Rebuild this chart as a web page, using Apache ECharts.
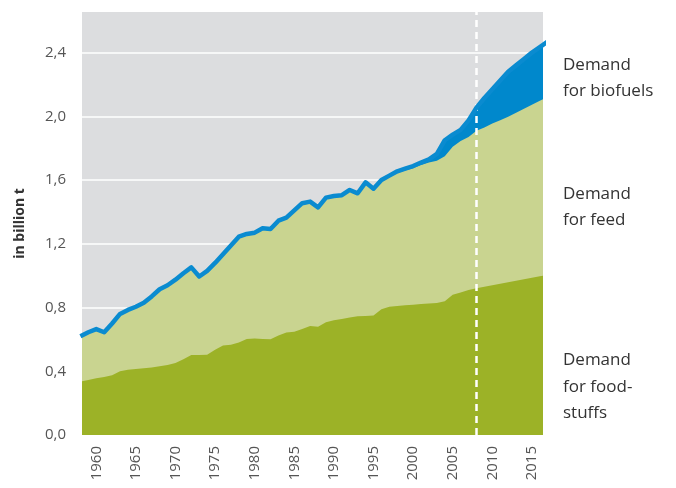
<!DOCTYPE html>
<html>
<head>
<meta charset="utf-8">
<script src="https://cdn.jsdelivr.net/npm/echarts@6.0.0/dist/echarts.min.js"></script>
<style>
html,body{margin:0;padding:0;background:#fff;}
#chart{width:676px;height:488px;}
</style>
</head>
<body>
<div id="chart"></div>
<script>
// Years (data are clipped to the visible range of the axis)
const years = [1958,1959,1960,1961,1962,1963,1964,1965,1966,1967,1968,1969,1970,1971,1972,1973,1974,1975,1976,1977,1978,1979,
  1980,1981,1982,1983,1984,1985,1986,1987,1988,1989,1990,1991,1992,1993,1994,1995,1996,1997,1998,1999,
  2000,2001,2002,2003,2004,2005,2006,2007,2008,2009,2010,2011,2012,2013,2014,2015,2016,2017];

// Cumulative levels, billion t
const foodLevel = [0.335,0.345,0.356,0.364,0.375,0.40,0.41,0.415,0.419,0.424,0.432,0.44,0.452,0.475,0.502,0.502,0.503,0.535,0.561,0.566,0.58,0.603,
  0.605,0.603,0.601,0.625,0.643,0.648,0.665,0.684,0.68,0.708,0.72,0.728,0.738,0.745,0.747,0.75,0.79,0.805,0.81,0.814,
  0.818,0.822,0.826,0.829,0.84,0.88,0.895,0.91,0.921,0.93,0.94,0.95,0.959,0.968,0.978,0.987,0.996,1.005];

const foodFeedLevel = [0.61,0.635,0.655,0.635,0.69,0.75,0.775,0.795,0.82,0.86,0.905,0.93,0.965,1.005,1.042,0.985,1.02,1.07,1.125,1.18,1.235,1.252,
  1.26,1.288,1.283,1.335,1.354,1.40,1.445,1.455,1.419,1.48,1.49,1.495,1.528,1.507,1.576,1.536,1.59,1.618,1.645,1.66,
  1.675,1.695,1.71,1.722,1.75,1.81,1.845,1.87,1.91,1.93,1.955,1.975,1.998,2.023,2.048,2.073,2.098,2.123];

const totalLevel = [0.62,0.645,0.665,0.645,0.70,0.76,0.785,0.805,0.83,0.87,0.915,0.94,0.975,1.015,1.052,0.995,1.03,1.08,1.135,1.19,1.245,1.262,
  1.27,1.298,1.293,1.345,1.364,1.41,1.455,1.465,1.429,1.49,1.50,1.505,1.538,1.517,1.586,1.546,1.60,1.628,1.655,1.672,
  1.688,1.71,1.73,1.765,1.85,1.885,1.915,1.975,2.055,2.115,2.17,2.225,2.28,2.32,2.36,2.40,2.435,2.47];

const xTickLabels = [1960,1965,1970,1975,1980,1985,1990,1995,2000,2005,2010,2015];
const projectionYear = 2008;
const seriesNames = ['Demand\nfor biofuels','Demand\nfor feed','Demand\nfor food-\nstuffs'];
const yAxisName = 'in billion t';

const pairs = arr => years.map((y, i) => [y, arr[i]]);

const FONT = '"Open Sans", "Noto Sans", sans-serif';
const chart = echarts.init(document.getElementById('chart'), null, {renderer: 'canvas'});

const option = {
  animation: false,
  grid: {
    left: 82, top: 12, right: 133, bottom: 53,
    show: true, backgroundColor: '#dcdddf', borderWidth: 0
  },
  xAxis: {
    type: 'value',
    min: 1958.2, max: 2016.4,
    axisLine: {show: false},
    axisTick: {show: false},
    splitLine: {show: false},
    axisLabel: {
      customValues: xTickLabels,
      rotate: 90, margin: 11,
      color: '#555', fontSize: 15, fontFamily: FONT,
      formatter: v => String(v)
    }
  },
  yAxis: {
    type: 'value',
    min: 0, max: 2.655, interval: 0.4,
    name: yAxisName,
    nameLocation: 'middle',
    nameGap: 55,
    nameTextStyle: {color: '#333', fontSize: 14, fontWeight: 'bold', fontFamily: FONT},
    axisLine: {show: false},
    axisTick: {show: false},
    splitLine: {show: true, showMaxLine: false, lineStyle: {color: '#ffffff', width: 1.5}},
    axisLabel: {
      showMaxLabel: false,
      margin: 16,
      color: '#555', fontSize: 15, fontFamily: FONT,
      formatter: v => v.toFixed(1).replace('.', ',')
    }
  },
  series: [
    {
      name: seriesNames[0], type: 'line', data: pairs(totalLevel),
      symbol: 'none', lineStyle: {width: 0}, areaStyle: {color: '#0088cc', opacity: 1}, z: 2
    },
    {
      name: seriesNames[1], type: 'line', data: pairs(foodFeedLevel),
      symbol: 'none', lineStyle: {width: 0}, areaStyle: {color: '#c9d490', opacity: 1}, z: 3
    },
    {
      name: seriesNames[2], type: 'line', data: pairs(foodLevel),
      symbol: 'none', lineStyle: {width: 0}, areaStyle: {color: '#9cb227', opacity: 1}, z: 4
    },
    {
      name: 'total', type: 'line', data: pairs(totalLevel),
      symbol: 'none', lineStyle: {width: 4.5, color: '#0a8bd0', join: 'round'}, z: 5,
      markLine: {
        silent: true, symbol: 'none', label: {show: false},
        lineStyle: {color: '#ffffff', width: 2.5, type: [7, 5]},
        data: [{xAxis: projectionYear}]
      }
    }
  ],
  graphic: [
    {type: 'text', left: 563, top: 52, style: {text: seriesNames[0], fill: '#333', font: '17px ' + FONT, lineHeight: 26}},
    {type: 'text', left: 563, top: 181, style: {text: seriesNames[1], fill: '#333', font: '17px ' + FONT, lineHeight: 26}},
    {type: 'text', left: 563, top: 347, style: {text: seriesNames[2], fill: '#333', font: '17px ' + FONT, lineHeight: 26.5}}
  ]
};
chart.setOption(option);
</script>
</body>
</html>
